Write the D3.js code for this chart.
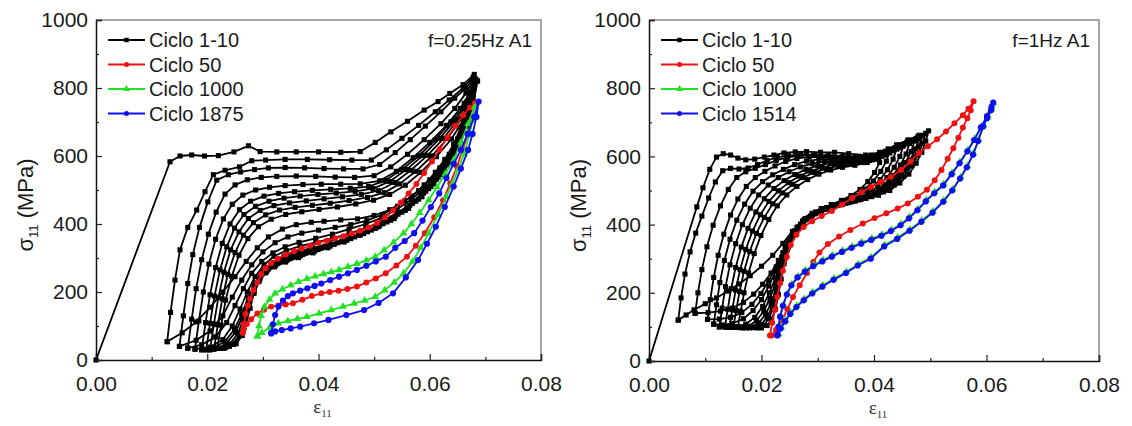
<!DOCTYPE html>
<html>
<head>
<meta charset="utf-8">
<script src="https://cdn.jsdelivr.net/npm/d3@7"></script>
<style>
  body { margin: 0; background: #fff; }
  svg { display: block; }
</style>
</head>
<body>
<svg id="chart" width="1132" height="426"></svg>
<script>
// ---- tick values ----
const xMajorTicks = [0, 0.02, 0.04, 0.06, 0.08];
const xMinorTicks = [0.01, 0.03, 0.05, 0.07];
const yMajorTicks = [0, 200, 400, 600, 800, 1000];
const yMinorTicks = [100, 300, 500, 700, 900];

// ---- legend / annotation texts ----
const leftLegend = ["Ciclo 1-10", "Ciclo 50", "Ciclo 1000", "Ciclo 1875"];
const rightLegend = ["Ciclo 1-10", "Ciclo 50", "Ciclo 1000", "Ciclo 1514"];
const leftNote = "f=0.25Hz A1";
const rightNote = "f=1Hz A1";

// ---- left panel (f=0.25Hz): cycles 1-10, [strain, stress MPa] ----
const leftCycles1to10 = [
  [[0,0],[0.0133,583],[0.0151,600],[0.0172,603],[0.0195,600],[0.022,601],[0.0248,612],[0.0274,630],[0.0295,613],[0.0325,612],[0.036,612],[0.040,612],[0.044,611],[0.0475,613],[0.0502,640],[0.053,671],[0.056,702],[0.059,735],[0.0615,760],[0.0636,784],[0.066,810],[0.068,840],
   [0.0676,800],[0.067,750],[0.0662,700],[0.065,650],[0.0635,605],[0.0618,565],[0.060,530],[0.058,498],[0.0555,468],[0.0528,442],[0.050,425],[0.047,415],[0.044,412],[0.041,408],[0.0387,405],[0.036,398],[0.0335,385],[0.031,362],[0.029,330],[0.027,290],[0.025,245],[0.0228,200],[0.0205,155],[0.018,112],[0.0155,80],[0.0128,54]],
  [[0.0128,54],[0.0134,140],[0.0142,235],[0.0151,324],[0.0165,390],[0.0181,441],[0.0196,495],[0.0211,545],[0.0232,558],[0.0258,568],[0.028,586],[0.0305,588],[0.034,590],[0.038,590],[0.042,589],[0.046,588],[0.0495,588],[0.0522,618],[0.055,652],[0.058,690],[0.061,730],[0.0635,765],[0.066,800],[0.0678,832],
   [0.0673,785],[0.0666,735],[0.0656,685],[0.0643,635],[0.0627,590],[0.061,552],[0.059,515],[0.0568,482],[0.0542,452],[0.0515,428],[0.0487,410],[0.0458,398],[0.043,390],[0.040,382],[0.037,373],[0.0345,362],[0.0322,345],[0.030,318],[0.028,280],[0.0262,235],[0.0245,185],[0.0228,130],[0.0205,85],[0.018,58],[0.015,40]],
  [[0.015,40],[0.0157,130],[0.0165,225],[0.0174,310],[0.0186,390],[0.0201,465],[0.0217,529],[0.0238,545],[0.026,553],[0.0285,560],[0.031,565],[0.034,566],[0.0375,565],[0.041,563],[0.0445,562],[0.048,562],[0.051,575],[0.0538,610],[0.0565,648],[0.0592,688],[0.062,730],[0.0645,770],[0.0665,800],[0.0679,828],
   [0.0674,780],[0.0667,728],[0.0657,676],[0.0644,626],[0.0628,580],[0.061,540],[0.059,505],[0.0567,472],[0.0541,443],[0.0513,418],[0.0485,400],[0.0455,385],[0.0425,370],[0.0395,358],[0.0365,346],[0.034,333],[0.0318,315],[0.0298,290],[0.028,255],[0.0265,210],[0.025,160],[0.0235,110],[0.0215,68],[0.019,45],[0.0165,35]],
  [[0.0165,35],[0.0172,120],[0.018,210],[0.019,295],[0.0202,370],[0.0216,435],[0.0232,488],[0.025,515],[0.0272,530],[0.0297,537],[0.0325,540],[0.036,541],[0.0395,540],[0.043,538],[0.0465,537],[0.050,542],[0.053,568],[0.056,605],[0.059,648],[0.062,695],[0.0645,740],[0.0665,785],[0.068,826],
   [0.0675,775],[0.0668,722],[0.0658,670],[0.0645,620],[0.0629,574],[0.0611,533],[0.0591,496],[0.0568,462],[0.0542,432],[0.0514,408],[0.0485,388],[0.0455,372],[0.0425,358],[0.0395,346],[0.0367,335],[0.0342,322],[0.032,305],[0.0302,280],[0.0286,245],[0.0272,200],[0.0259,150],[0.0245,100],[0.0228,60],[0.0205,38],[0.0178,32]],
  [[0.0178,32],[0.0185,115],[0.0193,200],[0.0203,282],[0.0215,355],[0.0229,415],[0.0245,458],[0.0264,485],[0.0287,500],[0.0312,508],[0.034,513],[0.0372,516],[0.0405,517],[0.044,517],[0.0475,518],[0.051,527],[0.054,555],[0.057,595],[0.060,640],[0.063,690],[0.0655,740],[0.0672,785],[0.0682,826],
   [0.0676,770],[0.0668,715],[0.0657,660],[0.0643,608],[0.0626,560],[0.0607,518],[0.0586,480],[0.0562,446],[0.0536,416],[0.0508,392],[0.0479,372],[0.0449,356],[0.042,342],[0.039,330],[0.0362,318],[0.0338,305],[0.0318,287],[0.0301,262],[0.0287,228],[0.0274,184],[0.0262,136],[0.0249,90],[0.0232,55],[0.0212,36],[0.019,30]],
  [[0.019,30],[0.0197,110],[0.0205,192],[0.0215,272],[0.0227,343],[0.0241,400],[0.0258,442],[0.0278,467],[0.0302,482],[0.0328,490],[0.0357,495],[0.0389,499],[0.0422,502],[0.0457,505],[0.049,510],[0.052,528],[0.055,560],[0.058,600],[0.061,648],[0.0638,700],[0.0662,755],[0.0682,826],
   [0.0676,765],[0.0667,706],[0.0655,650],[0.064,598],[0.0622,551],[0.0602,510],[0.058,473],[0.0556,440],[0.053,411],[0.0502,387],[0.0472,367],[0.0442,350],[0.0412,335],[0.0383,322],[0.0356,310],[0.0333,297],[0.0314,279],[0.0298,254],[0.0285,218],[0.0274,174],[0.0263,126],[0.0251,82],[0.0235,50],[0.0218,34],[0.0198,30]],
  [[0.0198,30],[0.0205,108],[0.0213,188],[0.0223,265],[0.0235,333],[0.0249,388],[0.0266,428],[0.0287,452],[0.0311,467],[0.0338,476],[0.0367,482],[0.0399,487],[0.0432,491],[0.0466,496],[0.0498,504],[0.0528,525],[0.0558,560],[0.0588,602],[0.0618,652],[0.0645,705],[0.0667,760],[0.0683,824],
   [0.0677,762],[0.0667,700],[0.0654,644],[0.0638,592],[0.0619,545],[0.0598,504],[0.0575,467],[0.055,435],[0.0523,406],[0.0495,382],[0.0465,362],[0.0435,345],[0.0405,330],[0.0377,317],[0.0351,304],[0.0329,290],[0.0311,272],[0.0296,247],[0.0284,211],[0.0274,167],[0.0265,120],[0.0255,78],[0.0241,48],[0.0224,34],[0.0205,30]],
  [[0.0205,30],[0.0212,106],[0.022,184],[0.023,258],[0.0242,324],[0.0257,377],[0.0274,416],[0.0295,440],[0.032,454],[0.0348,462],[0.0378,468],[0.041,474],[0.0443,480],[0.0477,487],[0.0508,498],[0.0537,522],[0.0566,558],[0.0596,602],[0.0625,652],[0.0651,708],[0.0671,765],[0.0684,822],
   [0.0677,758],[0.0666,695],[0.0652,638],[0.0635,585],[0.0615,538],[0.0593,497],[0.0569,461],[0.0543,429],[0.0516,401],[0.0488,377],[0.0458,357],[0.0428,340],[0.0399,325],[0.0372,311],[0.0347,298],[0.0326,284],[0.0309,266],[0.0295,241],[0.0284,205],[0.0275,161],[0.0267,114],[0.0258,74],[0.0245,46],[0.0229,34],[0.0212,32]],
  [[0.0212,32],[0.0219,104],[0.0227,180],[0.0237,252],[0.025,316],[0.0265,367],[0.0283,404],[0.0305,427],[0.033,441],[0.0358,449],[0.0389,455],[0.0421,461],[0.0455,469],[0.0488,478],[0.0518,492],[0.0546,518],[0.0575,555],[0.0604,600],[0.0632,652],[0.0657,710],[0.0675,768],[0.0685,822],
   [0.0678,755],[0.0666,690],[0.0651,632],[0.0633,579],[0.0612,532],[0.0589,491],[0.0564,455],[0.0538,423],[0.051,396],[0.0481,372],[0.0451,352],[0.0421,335],[0.0393,320],[0.0367,306],[0.0343,293],[0.0323,279],[0.0307,261],[0.0294,236],[0.0284,200],[0.0276,156],[0.0268,110],[0.026,72],[0.0248,46],[0.0233,36],[0.0218,35]],
  [[0.0218,35],[0.0225,102],[0.0233,176],[0.0244,246],[0.0257,308],[0.0273,357],[0.0292,392],[0.0315,414],[0.0341,428],[0.037,436],[0.0401,443],[0.0434,450],[0.0467,459],[0.0499,470],[0.0528,487],[0.0556,514],[0.0584,552],[0.0612,598],[0.0639,650],[0.0662,710],[0.0678,770],[0.0686,820],
   [0.0678,752],[0.0665,686],[0.0649,627],[0.063,574],[0.0608,527],[0.0584,486],[0.0559,450],[0.0532,418],[0.0504,391],[0.0475,367],[0.0446,347],[0.0417,330],[0.039,315],[0.0364,301],[0.0341,288],[0.0321,274],[0.0305,256],[0.0293,231],[0.0284,196],[0.0277,152],[0.027,108],[0.0263,72],[0.0252,48],[0.024,40]]
];
const leftCycle50 = [[0.0264,80],[0.0266,105],[0.0269,135],[0.0273,160],[0.0277,180],[0.0283,205],[0.029,228],[0.0297,252],[0.0305,270],[0.0315,285],[0.0327,298],[0.0341,310],[0.0356,320],[0.037,328],[0.0385,336],[0.04,345],[0.0415,351],[0.043,358],[0.0445,364],[0.046,372],[0.0475,380],[0.049,390],[0.0505,403],[0.052,420],[0.0534,440],[0.0548,463],[0.0562,490],[0.0576,518],[0.059,550],[0.0604,584],[0.0618,620],[0.0632,655],[0.0646,688],[0.066,720],[0.0672,742],[0.0681,755],
  [0.0676,712],[0.0669,667],[0.0659,618],[0.0649,569],[0.0637,520],[0.0624,470],[0.0608,420],[0.0591,373],[0.0575,336],[0.0559,304],[0.054,278],[0.0521,255],[0.0503,240],[0.0486,228],[0.0469,216],[0.0452,209],[0.0436,204],[0.042,200],[0.0405,196],[0.0388,188],[0.0371,177],[0.0354,167],[0.0341,163],[0.0328,160],[0.0315,157],[0.0302,148],[0.029,137],[0.0279,120],[0.0271,106],[0.0266,92],[0.0264,80]];
const leftCycle1000 = [[0.029,70],[0.0293,100],[0.0297,130],[0.0303,157],[0.0312,178],[0.0322,196],[0.0335,208],[0.035,220],[0.0364,230],[0.0379,239],[0.0394,246],[0.0409,253],[0.0423,259],[0.0437,265],[0.0453,274],[0.0469,283],[0.0486,293],[0.0502,304],[0.0518,323],[0.0535,346],[0.0553,373],[0.0567,400],[0.0582,433],[0.0598,470],[0.0613,508],[0.0628,548],[0.0643,588],[0.0656,640],[0.0669,695],[0.0681,745],
  [0.0677,705],[0.0671,660],[0.0662,608],[0.0651,560],[0.0641,520],[0.063,480],[0.0615,428],[0.0598,373],[0.0584,330],[0.0569,290],[0.0553,255],[0.0536,228],[0.0519,205],[0.0502,186],[0.0483,175],[0.0464,166],[0.0444,157],[0.0423,147],[0.0401,137],[0.0379,127],[0.0362,121],[0.0345,115],[0.0328,108],[0.0312,95],[0.0298,80],[0.029,70]];
const leftCycle1875 = [[0.0315,78],[0.0318,105],[0.0322,132],[0.0328,157],[0.0336,175],[0.0345,188],[0.0354,196],[0.0367,204],[0.038,211],[0.0393,218],[0.0405,225],[0.0421,235],[0.0437,245],[0.0453,255],[0.0469,265],[0.0486,277],[0.0503,290],[0.0521,304],[0.0538,330],[0.0555,350],[0.0572,373],[0.0587,410],[0.0602,450],[0.0617,490],[0.063,535],[0.0643,577],[0.0656,618],[0.0668,665],[0.068,715],[0.0688,760],
  [0.0684,715],[0.0677,665],[0.0669,618],[0.0656,563],[0.0643,510],[0.0627,450],[0.0611,392],[0.0595,342],[0.0579,294],[0.0557,243],[0.0534,196],[0.0508,168],[0.0482,147],[0.045,132],[0.0418,118],[0.0392,108],[0.0367,98],[0.035,93],[0.0334,88],[0.0322,84],[0.0315,80]];

// ---- right panel (f=1Hz) ----
const rightCycles1to10 = [
  [[0,0],[0.0085,452],[0.0096,508],[0.0108,562],[0.012,598],[0.0132,608],[0.0145,604],[0.0158,595],[0.0172,590],[0.0188,592],[0.0205,598],[0.0222,604],[0.024,610],[0.026,613],[0.028,614],[0.0305,612],[0.033,612],[0.0355,608],[0.0385,604],[0.041,612],[0.0425,622],[0.044,634],[0.046,648],[0.048,662],[0.0497,675],
   [0.0492,645],[0.0485,612],[0.0475,580],[0.0462,548],[0.0446,522],[0.0428,500],[0.0408,486],[0.0386,477],[0.0362,468],[0.0338,459],[0.0315,448],[0.0293,432],[0.0273,410],[0.0255,380],[0.0238,345],[0.022,310],[0.02,278],[0.018,250],[0.016,226],[0.014,205],[0.012,185],[0.010,168],[0.008,150],[0.0066,135],[0.0052,120]],
  [[0.0052,120],[0.0057,185],[0.0064,255],[0.0073,320],[0.0083,375],[0.0094,425],[0.0106,478],[0.0118,525],[0.0131,558],[0.0145,565],[0.016,563],[0.0176,566],[0.0193,576],[0.021,588],[0.0228,597],[0.0248,602],[0.027,605],[0.0295,604],[0.032,602],[0.0345,600],[0.037,600],[0.0395,604],[0.042,615],[0.0442,632],[0.0463,648],[0.0478,658],[0.0492,668],
   [0.0486,638],[0.0478,605],[0.0467,572],[0.0453,542],[0.0436,516],[0.0417,496],[0.0396,482],[0.0373,472],[0.035,463],[0.0327,453],[0.0306,441],[0.0287,425],[0.027,402],[0.0255,372],[0.0242,335],[0.023,295],[0.0217,258],[0.0202,225],[0.0186,196],[0.0168,172],[0.0148,155],[0.0127,146],[0.0105,142],[0.0082,140]],
  [[0.0082,140],[0.0087,200],[0.0094,268],[0.0103,335],[0.0114,398],[0.0127,455],[0.0141,503],[0.0156,538],[0.0172,555],[0.0189,565],[0.0207,576],[0.0226,588],[0.0246,597],[0.0268,602],[0.0292,603],[0.0317,601],[0.0342,598],[0.0367,597],[0.0392,600],[0.0416,610],[0.0438,626],[0.0459,642],[0.0475,652],[0.0486,660],
   [0.048,630],[0.0471,597],[0.0459,565],[0.0444,536],[0.0426,511],[0.0406,492],[0.0384,479],[0.0361,469],[0.0338,460],[0.0316,450],[0.0296,437],[0.0278,418],[0.0263,392],[0.025,358],[0.0238,318],[0.0226,276],[0.0213,236],[0.0199,198],[0.0183,166],[0.0165,142],[0.0145,128],[0.0125,123],[0.0104,122]],
  [[0.0104,122],[0.0109,180],[0.0115,245],[0.0123,310],[0.0133,372],[0.0145,428],[0.0158,475],[0.0173,512],[0.0189,538],[0.0206,556],[0.0224,572],[0.0243,585],[0.0263,594],[0.0285,598],[0.0308,598],[0.0332,596],[0.0356,594],[0.038,595],[0.0404,602],[0.0427,618],[0.0447,634],[0.0465,645],[0.048,652],
   [0.0474,622],[0.0465,590],[0.0452,558],[0.0437,530],[0.0419,506],[0.0399,487],[0.0377,474],[0.0354,464],[0.0331,455],[0.0309,444],[0.029,430],[0.0273,410],[0.0259,382],[0.0247,346],[0.0236,305],[0.0225,262],[0.0213,220],[0.02,180],[0.0185,148],[0.0168,124],[0.0148,110],[0.013,106],[0.0115,108]],
  [[0.0115,108],[0.012,165],[0.0126,230],[0.0134,295],[0.0144,357],[0.0156,413],[0.017,460],[0.0185,498],[0.0202,526],[0.022,546],[0.0239,562],[0.0259,576],[0.028,586],[0.0302,591],[0.0325,592],[0.0349,591],[0.0373,590],[0.0397,594],[0.042,606],[0.0441,622],[0.0458,636],[0.0472,645],
   [0.0466,614],[0.0456,582],[0.0443,551],[0.0427,523],[0.0409,500],[0.0389,482],[0.0367,469],[0.0344,459],[0.0322,449],[0.0302,437],[0.0284,421],[0.0269,398],[0.0256,368],[0.0245,330],[0.0235,288],[0.0225,244],[0.0214,200],[0.0202,160],[0.0188,128],[0.0172,108],[0.0154,100],[0.0138,99],[0.0125,100]],
  [[0.0125,100],[0.013,155],[0.0136,218],[0.0144,282],[0.0154,344],[0.0166,400],[0.018,448],[0.0195,487],[0.0212,516],[0.023,538],[0.0249,555],[0.0269,569],[0.029,579],[0.0312,585],[0.0335,587],[0.0359,586],[0.0383,587],[0.0406,594],[0.0428,610],[0.0447,626],[0.0463,638],
   [0.0457,607],[0.0447,575],[0.0434,544],[0.0418,517],[0.04,495],[0.038,478],[0.0358,466],[0.0336,456],[0.0315,445],[0.0296,432],[0.0279,414],[0.0265,389],[0.0253,357],[0.0243,318],[0.0234,274],[0.0225,228],[0.0215,184],[0.0204,146],[0.0191,118],[0.0176,102],[0.016,98],[0.0145,99],[0.0135,100]],
  [[0.0135,100],[0.014,152],[0.0146,212],[0.0154,274],[0.0164,334],[0.0176,389],[0.019,437],[0.0205,476],[0.0222,506],[0.024,529],[0.0259,547],[0.0279,562],[0.03,573],[0.0322,580],[0.0345,583],[0.0369,584],[0.0392,588],[0.0414,600],[0.0434,617],[0.0452,630],
   [0.0446,600],[0.0436,568],[0.0423,538],[0.0407,512],[0.0389,491],[0.0369,475],[0.0348,463],[0.0327,452],[0.0307,440],[0.029,425],[0.0275,405],[0.0262,378],[0.0251,344],[0.0242,302],[0.0234,258],[0.0226,212],[0.0217,170],[0.0207,136],[0.0195,112],[0.0181,100],[0.0166,97],[0.0152,99],[0.0143,100]],
  [[0.0143,100],[0.0148,150],[0.0154,208],[0.0162,268],[0.0172,327],[0.0184,381],[0.0198,429],[0.0213,468],[0.023,499],[0.0248,523],[0.0267,542],[0.0287,557],[0.0308,568],[0.033,576],[0.0353,580],[0.0376,583],[0.0398,590],[0.0419,604],[0.044,622],
   [0.0434,592],[0.0424,561],[0.0411,532],[0.0395,507],[0.0377,487],[0.0358,472],[0.0338,460],[0.0318,449],[0.03,436],[0.0284,420],[0.027,399],[0.0258,370],[0.0248,334],[0.024,292],[0.0233,248],[0.0226,202],[0.0219,160],[0.021,128],[0.0199,107],[0.0186,98],[0.0172,97],[0.0159,99],[0.015,100]],
  [[0.015,100],[0.0155,148],[0.0161,204],[0.0169,263],[0.0179,321],[0.0191,374],[0.0205,421],[0.022,461],[0.0237,493],[0.0255,518],[0.0274,538],[0.0294,553],[0.0315,564],[0.0337,572],[0.0359,577],[0.0381,582],[0.0402,592],[0.0428,615],
   [0.0422,586],[0.0412,556],[0.0399,528],[0.0384,504],[0.0367,485],[0.0349,470],[0.033,458],[0.0311,446],[0.0294,432],[0.0279,415],[0.0266,393],[0.0255,363],[0.0246,327],[0.0239,286],[0.0233,242],[0.0227,197],[0.0221,155],[0.0213,124],[0.0204,105],[0.0192,97],[0.0179,97],[0.0166,99],[0.0158,100]],
  [[0.0158,100],[0.0163,146],[0.0169,200],[0.0177,258],[0.0187,315],[0.0199,368],[0.0213,415],[0.0228,455],[0.0245,487],[0.0263,512],[0.0282,532],[0.0302,548],[0.0323,560],[0.0344,568],[0.0366,574],[0.0388,582],[0.0415,610],
   [0.041,582],[0.0401,553],[0.0389,526],[0.0375,503],[0.0359,485],[0.0342,471],[0.0324,459],[0.0306,447],[0.029,433],[0.0276,415],[0.0264,392],[0.0254,362],[0.0246,326],[0.024,285],[0.0235,240],[0.023,195],[0.0225,152],[0.0218,122],[0.021,104],[0.02,97]]
];
const rightCycle50 = [[0.0215,75],[0.0219,112],[0.0224,150],[0.0228,188],[0.0233,228],[0.0238,265],[0.0245,305],[0.0252,340],[0.0262,370],[0.0275,393],[0.029,410],[0.0307,425],[0.0325,440],[0.0343,458],[0.0361,478],[0.0378,495],[0.0395,510],[0.0412,525],[0.043,540],[0.0448,560],[0.0465,585],[0.048,610],[0.0496,630],[0.0512,650],[0.0528,673],[0.0543,697],[0.0558,721],[0.0568,740],[0.0577,762],
  [0.0572,735],[0.0566,712],[0.0558,685],[0.055,655],[0.0541,624],[0.0531,593],[0.052,560],[0.0508,530],[0.0494,502],[0.0478,482],[0.046,462],[0.0442,447],[0.0422,433],[0.0401,419],[0.038,403],[0.0358,384],[0.0338,365],[0.0318,343],[0.0303,318],[0.0292,290],[0.0281,258],[0.0268,222],[0.0256,188],[0.0246,152],[0.0236,118],[0.0226,92],[0.0218,75]];
const rightCycle1000 = [[0.0229,76],[0.0231,102],[0.0234,132],[0.0239,165],[0.0246,198],[0.0254,225],[0.0265,248],[0.0278,266],[0.0293,282],[0.0309,296],[0.0326,310],[0.0344,324],[0.0361,336],[0.0378,348],[0.0396,359],[0.0414,371],[0.0431,385],[0.0448,402],[0.0463,422],[0.0478,446],[0.0493,472],[0.0508,496],[0.0524,519],[0.0539,552],[0.0553,584],[0.0567,619],[0.0579,652],[0.0591,688],[0.0602,720],[0.0609,745],[0.0612,756],
  [0.0609,738],[0.0602,715],[0.0595,691],[0.0586,649],[0.0577,609],[0.0566,572],[0.0554,539],[0.054,504],[0.0524,471],[0.0505,439],[0.0485,412],[0.0464,386],[0.0442,362],[0.0419,340],[0.0395,304],[0.0372,284],[0.0351,262],[0.0329,242],[0.0309,222],[0.0291,202],[0.0276,182],[0.0263,162],[0.0252,142],[0.0243,119],[0.0235,98],[0.023,80]];
const rightCycle1514 = [[0.0228,75],[0.023,100],[0.0233,130],[0.0238,162],[0.0245,195],[0.0253,222],[0.0264,245],[0.0277,262],[0.0292,278],[0.0308,292],[0.0325,306],[0.0343,320],[0.036,332],[0.0377,344],[0.0395,355],[0.0413,367],[0.043,381],[0.0447,398],[0.0462,418],[0.0477,442],[0.0492,468],[0.0507,492],[0.0523,515],[0.0538,548],[0.0552,580],[0.0566,615],[0.0578,648],[0.059,685],[0.0601,718],[0.0609,745],[0.0612,758],
  [0.0608,735],[0.0601,712],[0.0594,688],[0.0585,645],[0.0576,605],[0.0565,568],[0.0553,535],[0.0539,500],[0.0523,467],[0.0504,435],[0.0484,408],[0.0463,382],[0.0441,358],[0.0418,336],[0.0394,300],[0.0371,280],[0.035,258],[0.0328,238],[0.0308,218],[0.029,198],[0.0275,178],[0.0262,158],[0.0251,138],[0.0242,116],[0.0234,95],[0.0229,78]];

// ---- drawing ----
const svg = d3.select("#chart");
const FONT = "'Liberation Sans', Arial, sans-serif";

const panels = [
  { left: 96, right: 541, bottom: 360, top: 20, legend: leftLegend, note: leftNote,
    black: leftCycles1to10, red: leftCycle50, green: leftCycle1000, blue: leftCycle1875 },
  { left: 649, right: 1099, bottom: 361, top: 20, legend: rightLegend, note: rightNote,
    black: rightCycles1to10, red: rightCycle50, green: rightCycle1000, blue: rightCycle1514 }
];

const styles = [
  { color: "#000000", marker: "square" },
  { color: "#ee1111", marker: "circle" },
  { color: "#22e022", marker: "triangle" },
  { color: "#1010ee", marker: "circle" }
];

function drawMarkers(g, pts, x, y, st, size) {
  const sym = st.marker === "square" ? d3.symbolSquare
            : st.marker === "triangle" ? d3.symbolTriangle : d3.symbolCircle;
  g.selectAll(null).data(pts).join("path")
    .attr("transform", d => `translate(${x(d[0])},${y(d[1])})`)
    .attr("d", d3.symbol().type(sym).size(size))
    .attr("fill", st.color);
}

function drawSeries(g, loops, x, y, st, size) {
  const line = d3.line().x(d => x(d[0])).y(d => y(d[1]));
  loops.forEach(pts => {
    g.append("path").datum(pts)
      .attr("d", line)
      .attr("fill", "none")
      .attr("stroke", st.color)
      .attr("stroke-width", 1.8)
      .attr("stroke-linejoin", "round");
    drawMarkers(g, pts, x, y, st, size);
  });
}

panels.forEach(p => {
  const x = d3.scaleLinear().domain([0, 0.08]).range([p.left, p.right]);
  const y = d3.scaleLinear().domain([0, 1000]).range([p.bottom, p.top]);
  const g = svg.append("g");

  // frame (top / right, grey)
  g.append("path")
    .attr("d", `M${p.left},${p.top}H${p.right}V${p.bottom}`)
    .attr("fill", "none").attr("stroke", "#8a8a8a").attr("stroke-width", 1.5);

  // data
  const plot = g.append("g");
  drawSeries(plot, p.black, x, y, styles[0], 26);
  drawSeries(plot, [p.red], x, y, styles[1], 28);
  drawSeries(plot, [p.green], x, y, styles[2], 26);
  drawSeries(plot, [p.blue], x, y, styles[3], 30);

  // axes
  const xAxis = g.append("g").attr("transform", `translate(0,${p.bottom})`)
    .call(d3.axisBottom(x).tickValues(xMajorTicks).tickSize(-6).tickPadding(16)
      .tickFormat(d3.format(".2f")));
  g.append("g").attr("transform", `translate(0,${p.bottom})`)
    .call(d3.axisBottom(x).tickValues(xMinorTicks).tickSize(-3).tickFormat(""))
    .select(".domain").remove();
  const yAxis = g.append("g").attr("transform", `translate(${p.left},0)`)
    .call(d3.axisLeft(y).tickValues(yMajorTicks).tickSize(-6).tickPadding(8)
      .tickFormat(d3.format("d")));
  g.append("g").attr("transform", `translate(${p.left},0)`)
    .call(d3.axisLeft(y).tickValues(yMinorTicks).tickSize(-3).tickFormat(""))
    .select(".domain").remove();

  g.selectAll(".domain").attr("stroke", "#111").attr("stroke-width", 1.5);
  g.selectAll(".tick line").attr("stroke", "#222").attr("stroke-width", 1.2);
  [xAxis, yAxis].forEach(a => a.selectAll("text")
    .attr("font-family", FONT).attr("font-size", 21).attr("fill", "#1a1a1a"));
  xAxis.selectAll("text").attr("dy", "0.71em");

  // axis titles
  const yTitleX = p.left - 63;
  const yTitle = g.append("text")
    .attr("transform", `translate(${yTitleX},${(p.top + p.bottom) / 2 + 15}) rotate(-90)`)
    .attr("text-anchor", "middle")
    .attr("font-family", FONT).attr("font-size", 22).attr("fill", "#1a1a1a");
  yTitle.append("tspan").text("σ");
  yTitle.append("tspan").attr("font-size", 13).attr("dy", 5).text("11");
  yTitle.append("tspan").attr("dy", -5).text(" (MPa)");

  const xTitle = g.append("text")
    .attr("x", (p.left + p.right) / 2 + 4).attr("y", p.bottom + 53)
    .attr("text-anchor", "middle")
    .attr("font-family", "'Liberation Serif', 'Times New Roman', serif")
    .attr("font-size", 19).attr("fill", "#333");
  xTitle.append("tspan").text("ε");
  xTitle.append("tspan").attr("font-size", 11).attr("dy", 4).text("11");

  // legend
  const lg = g.append("g").attr("transform", `translate(${p.left + 12},40)`);
  p.legend.forEach((name, i) => {
    const row = lg.append("g").attr("transform", `translate(0,${i * 24.5})`);
    row.append("line").attr("x1", 0).attr("x2", 37).attr("y1", 0).attr("y2", 0)
      .attr("stroke", styles[i].color).attr("stroke-width", 2);
    drawMarkers(row, [[0, 0]], () => 18.5, () => 0, styles[i], 20);
    row.append("text").attr("x", 41).attr("y", 7)
      .attr("font-family", FONT).attr("font-size", 20).attr("fill", "#1a1a1a")
      .text(name);
  });

  // frequency note
  g.append("text")
    .attr("x", p.right - 9).attr("y", 47)
    .attr("text-anchor", "end")
    .attr("font-family", FONT).attr("font-size", 19).attr("fill", "#1a1a1a")
    .text(p.note);
});
</script>
</body>
</html>
